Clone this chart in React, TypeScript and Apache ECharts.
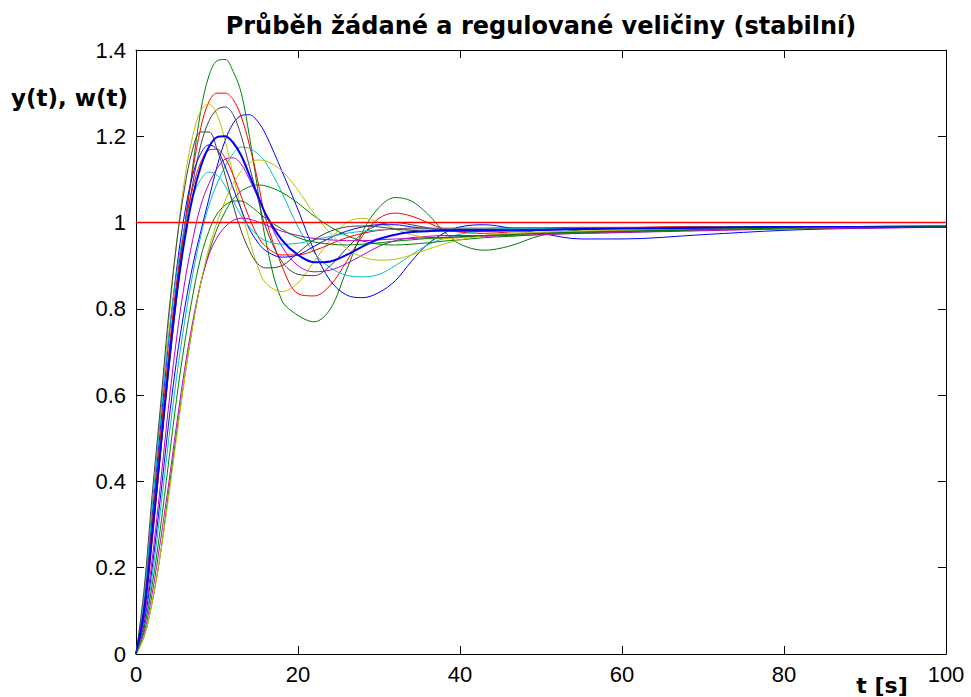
import React, { useEffect, useRef } from "react";
import * as echarts from "echarts";

// time grid (s)
const T = [0, 1, 2, 3, 4, 5, 6, 7, 8, 9, 10, 11, 12, 13, 14, 15, 16, 18, 20, 22, 24, 26, 28, 30, 32, 34, 36, 38, 40, 43, 46, 50, 55, 60, 70, 80, 90, 100];

const xTicks = { min: 0, max: 100, interval: 20 };
const yTicks = { min: 0, max: 1.4, interval: 0.2 };

const setpoint = [1, 1];
const setpointT = [0, 100];

const greenA = [0, 0.10, 0.27, 0.47, 0.67, 0.85, 0.99, 1.13, 1.26, 1.34, 1.375, 1.378, 1.35, 1.30, 1.20, 1.08, 0.96, 0.82, 0.785, 0.77, 0.80, 0.89, 0.98, 1.035, 1.058, 1.05, 1.02, 0.98, 0.95, 0.936, 0.945, 0.97, 0.983, 0.986, 0.988, 0.99, 0.99, 0.99];
const redB = [0, 0.09, 0.26, 0.46, 0.66, 0.84, 0.99, 1.12, 1.22, 1.28, 1.30, 1.30, 1.285, 1.245, 1.18, 1.10, 1.01, 0.90, 0.835, 0.83, 0.855, 0.91, 0.97, 1.01, 1.022, 1.015, 1.0, 0.985, 0.978, 0.975, 0.978, 0.982, 0.985, 0.988, 0.99, 0.99, 0.991, 0.992];
const yellowC = [0, 0.13, 0.34, 0.55, 0.76, 0.95, 1.10, 1.20, 1.26, 1.275, 1.25, 1.19, 1.11, 1.03, 0.96, 0.90, 0.86, 0.84, 0.86, 0.91, 0.96, 1.0, 1.01, 1.0, 0.985, 0.972, 0.965, 0.963, 0.965, 0.97, 0.973, 0.977, 0.98, 0.982, 0.985, 0.987, 0.989, 0.99];
const grayD = [0, 0.15, 0.37, 0.57, 0.78, 0.95, 1.08, 1.17, 1.21, 1.21, 1.17, 1.11, 1.04, 0.98, 0.935, 0.905, 0.895, 0.90, 0.93, 0.96, 0.98, 0.99, 0.992, 0.99, 0.985, 0.982, 0.98, 0.98, 0.98, 0.981, 0.982, 0.984, 0.985, 0.986, 0.988, 0.99, 0.99, 0.991];
const grayE = [0, 0.10, 0.27, 0.46, 0.65, 0.82, 0.97, 1.09, 1.18, 1.235, 1.262, 1.268, 1.25, 1.20, 1.13, 1.06, 0.99, 0.91, 0.88, 0.877, 0.90, 0.94, 0.975, 0.995, 1.0, 0.995, 0.988, 0.982, 0.98, 0.98, 0.982, 0.985, 0.987, 0.988, 0.99, 0.99, 0.991, 0.992];
const blueF = [0, 0.07, 0.20, 0.36, 0.53, 0.68, 0.80, 0.90, 0.98, 1.055, 1.13, 1.19, 1.23, 1.248, 1.25, 1.235, 1.205, 1.12, 1.03, 0.935, 0.865, 0.832, 0.826, 0.838, 0.865, 0.91, 0.95, 0.975, 0.99, 0.995, 0.988, 0.975, 0.962, 0.962, 0.972, 0.982, 0.987, 0.99];
const blueG = [0, 0.10, 0.28, 0.47, 0.66, 0.83, 0.96, 1.06, 1.13, 1.175, 1.198, 1.20, 1.185, 1.155, 1.11, 1.065, 1.02, 0.96, 0.925, 0.908, 0.91, 0.925, 0.945, 0.962, 0.972, 0.978, 0.98, 0.982, 0.982, 0.982, 0.982, 0.983, 0.985, 0.986, 0.988, 0.99, 0.99, 0.99];
const blueH = [0, 0.12, 0.32, 0.52, 0.72, 0.89, 1.02, 1.11, 1.16, 1.18, 1.17, 1.13, 1.08, 1.03, 0.985, 0.955, 0.935, 0.92, 0.925, 0.945, 0.965, 0.98, 0.99, 0.995, 0.995, 0.99, 0.986, 0.984, 0.984, 0.984, 0.985, 0.986, 0.987, 0.988, 0.989, 0.99, 0.99, 0.991];
const cyanI = [0, 0.06, 0.18, 0.33, 0.49, 0.64, 0.77, 0.88, 0.97, 1.04, 1.09, 1.13, 1.16, 1.175, 1.172, 1.16, 1.14, 1.07, 0.99, 0.93, 0.895, 0.878, 0.874, 0.88, 0.90, 0.925, 0.948, 0.963, 0.973, 0.98, 0.98, 0.977, 0.975, 0.977, 0.983, 0.987, 0.989, 0.99];
const cyanJ = [0, 0.13, 0.34, 0.54, 0.73, 0.88, 0.99, 1.06, 1.10, 1.117, 1.11, 1.085, 1.05, 1.015, 0.99, 0.97, 0.958, 0.95, 0.952, 0.96, 0.968, 0.975, 0.98, 0.983, 0.985, 0.985, 0.985, 0.985, 0.985, 0.985, 0.986, 0.986, 0.987, 0.988, 0.989, 0.99, 0.99, 0.991];
const magentaK = [0, 0.08, 0.22, 0.39, 0.57, 0.73, 0.86, 0.96, 1.04, 1.09, 1.125, 1.147, 1.15, 1.135, 1.10, 1.06, 1.02, 0.945, 0.90, 0.886, 0.89, 0.905, 0.925, 0.945, 0.958, 0.965, 0.968, 0.97, 0.97, 0.97, 0.972, 0.975, 0.978, 0.98, 0.984, 0.987, 0.989, 0.99];
const magentaL = [0, 0.05, 0.14, 0.26, 0.39, 0.53, 0.66, 0.77, 0.86, 0.925, 0.965, 0.99, 1.005, 1.01, 1.008, 1.002, 0.995, 0.98, 0.97, 0.963, 0.96, 0.958, 0.958, 0.96, 0.962, 0.963, 0.965, 0.966, 0.967, 0.968, 0.97, 0.972, 0.975, 0.977, 0.981, 0.985, 0.987, 0.989];
const yellowM = [0, 0.04, 0.12, 0.23, 0.36, 0.50, 0.64, 0.76, 0.86, 0.94, 1.0, 1.05, 1.09, 1.12, 1.138, 1.145, 1.143, 1.12, 1.075, 1.02, 0.975, 0.94, 0.92, 0.913, 0.915, 0.925, 0.938, 0.95, 0.96, 0.97, 0.975, 0.978, 0.98, 0.982, 0.985, 0.987, 0.989, 0.99];
const greenN = [0, 0.04, 0.12, 0.23, 0.37, 0.51, 0.64, 0.76, 0.86, 0.93, 0.985, 1.025, 1.055, 1.073, 1.083, 1.087, 1.085, 1.07, 1.045, 1.015, 0.99, 0.97, 0.957, 0.95, 0.948, 0.95, 0.953, 0.957, 0.96, 0.965, 0.968, 0.972, 0.976, 0.979, 0.983, 0.986, 0.988, 0.99];
const greenO = [0, 0.06, 0.16, 0.29, 0.44, 0.59, 0.72, 0.83, 0.92, 0.98, 1.02, 1.04, 1.05, 1.05, 1.04, 1.025, 1.01, 0.985, 0.965, 0.955, 0.95, 0.948, 0.95, 0.953, 0.957, 0.96, 0.963, 0.965, 0.967, 0.97, 0.972, 0.975, 0.978, 0.98, 0.984, 0.987, 0.989, 0.99];
const redR2 = [0, 0.11, 0.30, 0.50, 0.69, 0.86, 0.99, 1.08, 1.14, 1.168, 1.17, 1.15, 1.11, 1.06, 1.01, 0.97, 0.945, 0.925, 0.925, 0.935, 0.95, 0.965, 0.975, 0.982, 0.985, 0.987, 0.987, 0.987, 0.987, 0.987, 0.988, 0.988, 0.989, 0.989, 0.99, 0.99, 0.991, 0.992];

const C_B = "#0000FF";
const C_G = "#008000";
const C_R = "#FF0000";
const C_C = "#00BFBF";
const C_M = "#BF00BF";
const C_Y = "#BFBF00";
const C_K = "#404040";

const curves: { name: string; color: string; values: number[]; width?: number }[] = [
  { name: "y1", color: C_B, values: blueF },
  { name: "y2", color: C_G, values: greenA },
  { name: "y3", color: C_R, values: redB },
  { name: "y4", color: C_C, values: cyanI },
  { name: "y5", color: C_M, values: magentaK },
  { name: "y6", color: C_Y, values: yellowC },
  { name: "y7", color: C_K, values: grayE },
  { name: "y8", color: C_B, values: blueH },
  { name: "y9", color: C_G, values: greenN },
  { name: "y10", color: C_R, values: redR2 },
  { name: "y11", color: C_C, values: cyanJ },
  { name: "y12", color: C_M, values: magentaL },
  { name: "y13", color: C_Y, values: yellowM },
  { name: "y14", color: C_K, values: grayD },
  { name: "y15", color: C_B, values: blueG, width: 2 },
  { name: "y16", color: C_G, values: greenO },
];

const TITLE = "Průběh žádané a regulované veličiny (stabilní)";
const Y_NAME = "y(t), w(t)";
const X_NAME = "t [s]";

export default function App() {
  const ref = useRef<HTMLDivElement>(null);
  useEffect(() => {
    if (!ref.current) return;
    const chart = echarts.init(ref.current, undefined, { renderer: "svg" });
    const axisLine = { show: true, onZero: false, lineStyle: { color: "#000", width: 1 } };
    const axisTick = { show: true, inside: true, length: 8, lineStyle: { color: "#000", width: 1 } };
    const labelFont = { color: "#000", fontSize: 22, fontFamily: "Liberation Sans, Arial, sans-serif" };
    const series: any[] = curves.map((c) => ({
      name: c.name,
      type: "line",
      showSymbol: false,
      smooth: 0.35,
      lineStyle: { color: c.color, width: c.width || 1 },
      itemStyle: { color: c.color },
      data: T.map((t, i) => [t, c.values[i]]),
      z: 2,
    }));
    series.push({
      name: "w",
      type: "line",
      showSymbol: false,
      lineStyle: { color: C_R, width: 1.5 },
      data: setpointT.map((t, i) => [t, setpoint[i]]),
      z: 3,
    });
    chart.setOption({
      animation: false,
      backgroundColor: "#fff",
      grid: { left: 136, right: 25, top: 50, bottom: 43, containLabel: false },
      xAxis: [
        {
          type: "value",
          ...xTicks,
          axisLine,
          axisTick,
          axisLabel: { ...labelFont, margin: 9 },
          splitLine: { show: false },
        },
        {
          type: "value",
          position: "top",
          ...xTicks,
          axisLine,
          axisTick,
          axisLabel: { show: false },
          splitLine: { show: false },
        },
      ],
      yAxis: [
        {
          type: "value",
          ...yTicks,
          axisLine,
          axisTick,
          axisLabel: { ...labelFont, margin: 10 },
          splitLine: { show: false },
        },
        {
          type: "value",
          position: "right",
          ...yTicks,
          axisLine,
          axisTick,
          axisLabel: { show: false },
          splitLine: { show: false },
        },
      ],
      graphic: [
        {
          type: "text",
          x: 541,
          y: 26,
          style: {
            text: TITLE,
            fill: "#000",
            font: "bold 24px 'DejaVu Sans', sans-serif",
            textAlign: "center",
            textVerticalAlign: "middle",
          },
        },
        {
          type: "text",
          x: 11,
          y: 98,
          style: {
            text: Y_NAME,
            fill: "#000",
            font: "bold 23px 'DejaVu Sans', sans-serif",
            textAlign: "left",
            textVerticalAlign: "middle",
          },
        },
        {
          type: "text",
          x: 882,
          y: 685,
          style: {
            text: X_NAME,
            fill: "#000",
            font: "bold 22px 'DejaVu Sans', sans-serif",
            textAlign: "center",
            textVerticalAlign: "middle",
          },
        },
      ],
      series,
    });
    return () => chart.dispose();
  }, []);
  return (
    <div
      ref={ref}
      style={{ position: "fixed", left: 0, top: 0, width: 971, height: 697, background: "#fff" }}
    />
  );
}
